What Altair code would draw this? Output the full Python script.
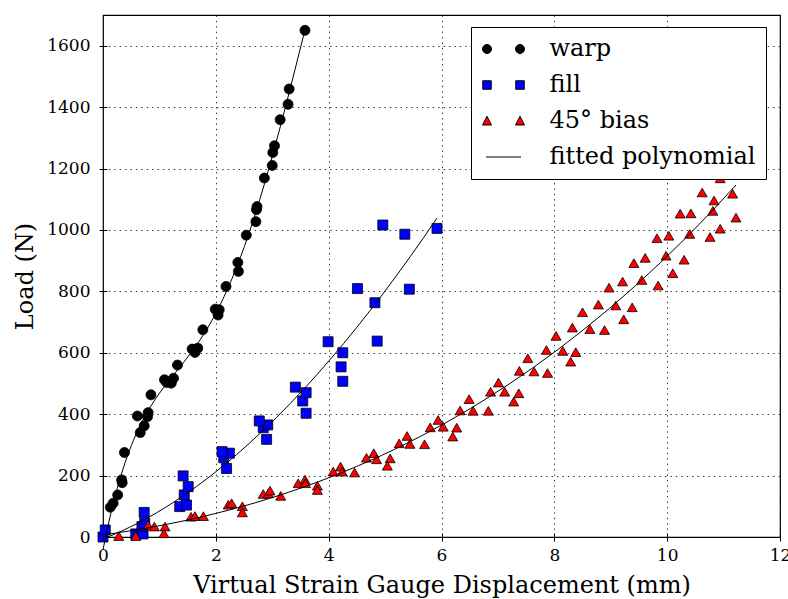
import altair as alt
import pandas as pd

# ---- data ----
warp_x = [0.13, 0.18, 0.26, 0.34, 0.33, 0.38, 0.66, 0.73, 0.79, 0.61, 0.80, 0.85, 1.13, 1.21,
          1.09, 1.25, 1.32, 1.63, 1.58, 1.68, 1.77, 2.04, 1.99, 2.06, 2.18, 2.40, 2.39, 2.54,
          2.71, 2.72, 2.73, 2.86, 3.00, 3.01, 3.04, 3.14, 3.28, 3.30, 3.58]
warp_y = [97, 110, 137, 177, 186, 275, 340, 362, 392, 394, 405, 463, 503, 501,
          512, 517, 560, 601, 612, 615, 675, 723, 742, 740, 816, 865, 894, 983,
          1027, 1066, 1076, 1169, 1210, 1252, 1274, 1359, 1409, 1459, 1650]

fill_x = [0.0, 0.04, 0.58, 0.71, 0.69, 0.74, 0.73, 1.36, 1.48, 1.44, 1.51, 1.42, 2.19, 2.14,
          2.24, 2.11, 2.90, 2.84, 2.92, 2.77, 3.60, 3.54, 3.60, 3.41, 4.25, 4.22, 4.25, 3.99,
          4.86, 4.82, 5.43, 4.51, 5.92, 5.35, 4.96]
fill_y = [0, 23, 10, 10, 34, 45, 80, 99, 104, 137, 164, 199, 223, 258,
          273, 278, 318, 356, 365, 378, 403, 443, 470, 488, 507, 554, 600, 636,
          638, 763, 807, 809, 1005, 986, 1016]

bias_x = [0.28, 0.58, 0.80, 0.91, 1.10, 1.08, 1.56, 1.63, 1.78, 2.22, 2.28, 2.47, 2.47, 2.84,
          2.93, 2.96, 3.15, 3.46, 3.58, 3.59, 3.80, 3.80, 4.08, 4.21, 4.24, 4.46, 4.67, 4.80,
          4.85, 5.09, 5.04, 5.25, 5.39, 5.44, 5.70, 5.80, 5.94, 6.03, 6.20, 6.27, 6.33, 6.49,
          6.56, 6.83, 6.87, 7.01, 7.12, 7.28, 7.37, 7.38, 7.53, 7.64, 7.88, 7.86, 8.03, 8.15,
          8.29, 8.38, 8.32, 8.50, 8.63, 8.78, 8.89, 8.97, 9.09, 9.21, 9.23, 9.38, 9.41, 9.55,
          9.61, 9.82, 9.84, 9.98, 10.03, 10.10, 10.23, 10.30, 10.42, 10.40, 10.62, 10.76, 10.81,
          10.83, 10.94, 10.94, 11.16, 11.22]
bias_y = [3, 3, 39, 34, 34, 12, 66, 68, 68, 105, 110, 100, 80, 140,
          142, 151, 134, 175, 187, 175, 167, 153, 213, 229, 213, 210, 258, 273,
          253, 256, 232, 305, 329, 303, 302, 357, 381, 359, 327, 356, 412, 449,
          411, 411, 473, 503, 473, 441, 468, 541, 582, 539, 534, 609, 655, 606,
          571, 602, 682, 732, 677, 757, 674, 812, 754, 832, 709, 748, 892, 837,
          909, 973, 819, 916, 981, 859, 1053, 903, 1054, 987, 1122, 977, 1062,
          1096, 1168, 1004, 1118, 1040]

series_names = ["warp", "fill", "45° bias", "fitted polynomial"]
series_colors = ["black", "#0000ff", "#ff0000", "black"]
series_shapes = ["circle", "square", "triangle-up"]
fit_orders = [4, 3, 3]
x_ticks = [0, 2, 4, 6, 8, 10, 12]
y_ticks = [0, 200, 400, 600, 800, 1000, 1200, 1400, 1600]

df = pd.concat([
    pd.DataFrame({"x": warp_x, "y": warp_y, "series": series_names[0]}),
    pd.DataFrame({"x": fill_x, "y": fill_y, "series": series_names[1]}),
    pd.DataFrame({"x": bias_x, "y": bias_y, "series": series_names[2]}),
], ignore_index=True)

FONT = "DejaVu Serif"
xscale = alt.Scale(domain=[0, 12], nice=False, zero=False)
yscale = alt.Scale(domain=[0, 1700], nice=False, zero=False)

common_axis = dict(format="d", offset=-4, tickSize=8, domain=False, labelFlush=False,
                   labelFont=FONT, labelFontSize=17, labelColor="black",
                   titleFont=FONT, titleFontSize=24, titleFontWeight="normal",
                   titleColor="black")
xaxis = alt.Axis(values=x_ticks, title="Virtual Strain Gauge Displacement (mm)",
                 labelPadding=6, titlePadding=10, **common_axis)
yaxis = alt.Axis(values=y_ticks, title="Load (N)",
                 labelPadding=9, titlePadding=9, **common_axis)

# legend glyphs (legend only): two markers per scatter entry, a short line for the fit
legend_glyphs = [
    "M-4.2,0A0.9,0.9 0 1,1 -2.4,0A0.9,0.9 0 1,1 -4.2,0Z M2.4,0A0.9,0.9 0 1,1 4.2,0A0.9,0.9 0 1,1 2.4,0Z",
    "M-4.15,-0.85H-2.45V0.85H-4.15Z M2.45,-0.85H4.15V0.85H2.45Z",
    "M-4.2,0.8L-3.3,-0.95L-2.4,0.8Z M2.4,0.8L3.3,-0.95L4.2,0.8Z",
    "M-3.5,0H3.5",
]

legend = alt.Legend(
    title=None, orient="none", legendX=368, legendY=12,
    strokeColor="black", fillColor="white", padding=10, cornerRadius=0,
    labelFont=FONT, labelFontSize=24, labelColor="black", labelLimit=400,
    symbolSize=100, symbolOffset=10.5, labelOffset=34, rowPadding=12,
    symbolStrokeWidth=1, symbolOpacity=1,
)

# invisible layer that carries the legend
legend_layer = alt.Chart(df).mark_point(filled=True, opacity=0).encode(
    x=alt.X("x:Q", scale=xscale, axis=xaxis),
    y=alt.Y("y:Q", scale=yscale, axis=yaxis),
    fill=alt.Fill("series:N", scale=alt.Scale(domain=series_names, range=series_colors),
                  legend=legend),
    stroke=alt.Stroke("series:N", scale=alt.Scale(domain=series_names, range=["black"] * 4),
                      legend=legend),
    shape=alt.Shape("series:N", scale=alt.Scale(domain=series_names, range=legend_glyphs),
                    legend=legend),
)


def point_layer(i):
    return alt.Chart(df).transform_filter(
        alt.datum.series == series_names[i]
    ).mark_point(filled=True, size=100, shape=series_shapes[i], fill=series_colors[i],
                 stroke="black", strokeWidth=0.8, opacity=1).encode(
        x=alt.X("x:Q", scale=xscale),
        y=alt.Y("y:Q", scale=yscale),
    )


def fit_layer(i, xs):
    return alt.Chart(df).transform_filter(
        alt.datum.series == series_names[i]
    ).transform_regression(
        "x", "y", method="poly", order=fit_orders[i], extent=[0, max(xs)]
    ).mark_line(color="black", strokeWidth=1).encode(
        x=alt.X("x:Q", scale=xscale),
        y=alt.Y("y:Q", scale=yscale),
    )


chart = alt.layer(
    legend_layer,
    point_layer(0), point_layer(1), point_layer(2),
    fit_layer(0, warp_x), fit_layer(1, fill_x), fit_layer(2, bias_x),
).properties(
    width=677, height=522,
    padding={"left": 103, "top": 15, "right": 8, "bottom": 62},
    autosize=alt.AutoSizeParams(type="none"),
).configure(
    font=FONT,
    style={"guide-label": {"font": FONT}, "guide-title": {"font": FONT}},
).configure_view(
    stroke="black", strokeWidth=1.2
).configure_axis(
    labelFont=FONT, titleFont=FONT,
    tickColor="black", tickWidth=1,
    grid=True, gridColor="black", gridDash=[1.4, 4], gridWidth=0.8, gridOpacity=1,
).configure_legend(
    labelFont=FONT, labelFontSize=24, labelColor="black",
)

chart.save("out.html", embed_options={"renderer": "svg", "actions": False})
